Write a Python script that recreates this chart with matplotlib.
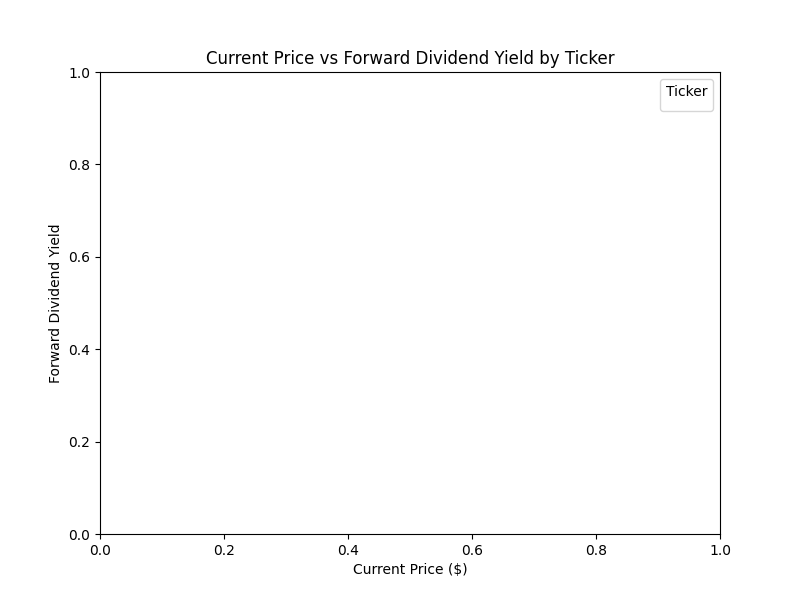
import matplotlib
matplotlib.use("Agg")
import matplotlib.pyplot as plt

# Source data has no rows, so the chart is drawn empty
tickers = []
current_prices = []
forward_yields = []

fig, ax = plt.subplots(figsize=(8, 6), dpi=100)

for ticker, price, fy in zip(tickers, current_prices, forward_yields):
    ax.scatter(price, fy, label=ticker)

ax.set_title("Current Price vs Forward Dividend Yield by Ticker")
ax.set_xlabel("Current Price ($)")
ax.set_ylabel("Forward Dividend Yield")
handles, labels = ax.get_legend_handles_labels()
ax.legend(handles, labels, title="Ticker")

plt.savefig("out.png")
